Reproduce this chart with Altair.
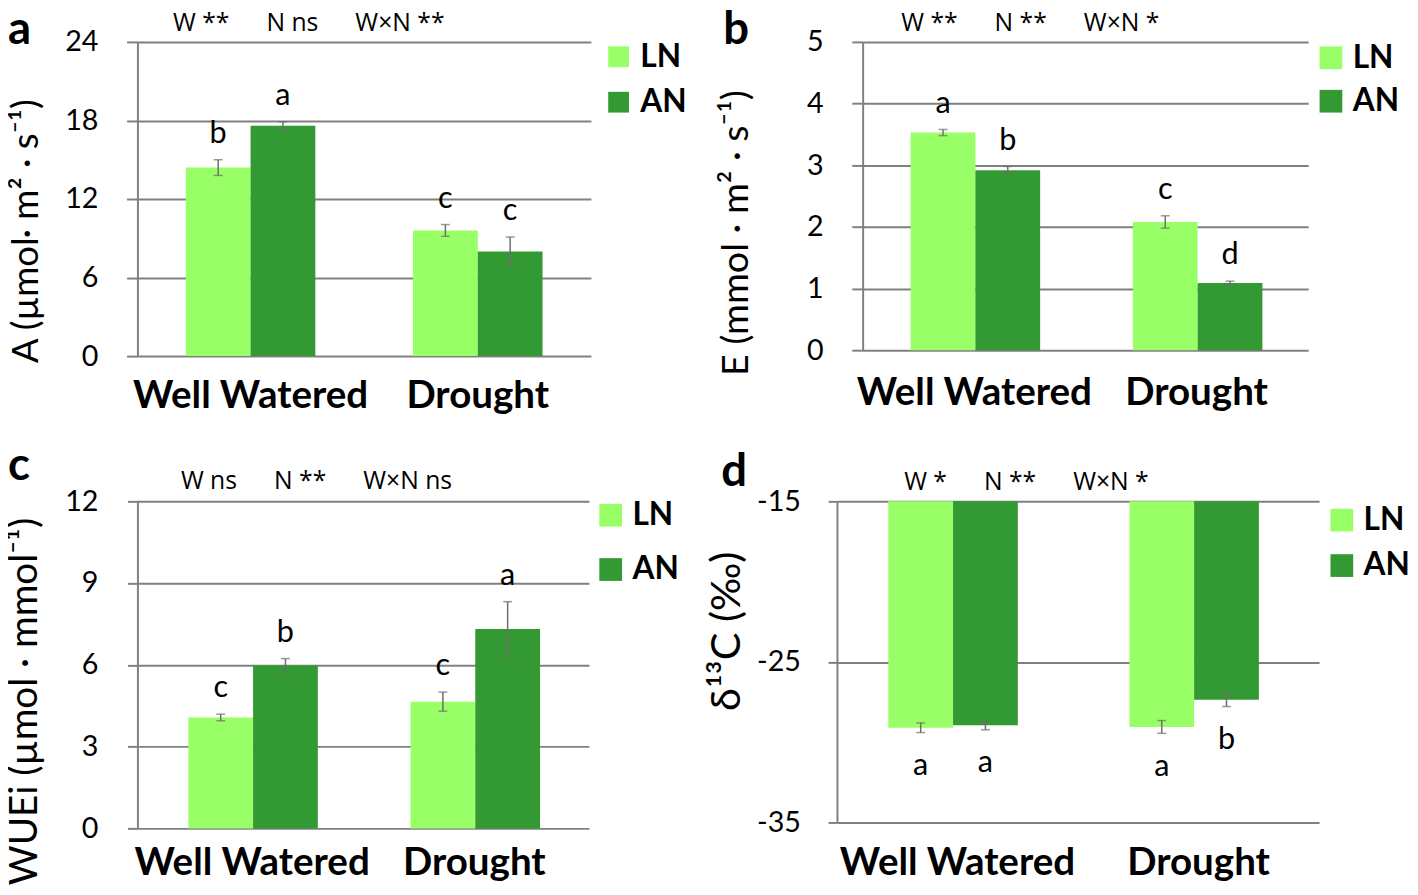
import altair as alt
import pandas as pd

FONT = "Lato"
SIGFONT = "Open Sans"
GRAY = "#808080"
ERR = "#6e6e6e"

conditions = ["Well Watered", "Drought"]
series = ["LN", "AN"]
colors = ["#99FF66", "#339933"]

# Panel a: net photosynthesis A
a_ln = [14.4, 9.6]
a_an = [17.6, 8.0]
a_ln_err = [0.6, 0.45]
a_an_err = [0.3, 1.1]
a_ln_let = ["b", "c"]
a_an_let = ["a", "c"]
a_ticks = [0, 6, 12, 18, 24]

# Panel b: transpiration E
b_ln = [3.53, 2.08]
b_an = [2.92, 1.09]
b_ln_err = [0.05, 0.1]
b_an_err = [0.06, 0.03]
b_ln_let = ["a", "c"]
b_an_let = ["b", "d"]
b_ticks = [0, 1, 2, 3, 4, 5]

# Panel c: WUEi
c_ln = [4.07, 4.65]
c_an = [5.98, 7.32]
c_ln_err = [0.12, 0.35]
c_an_err = [0.25, 1.0]
c_ln_let = ["c", "c"]
c_an_let = ["b", "a"]
c_ticks = [0, 3, 6, 9, 12]

# Panel d: delta 13C
d_ln = [-29.1, -29.05]
d_an = [-28.95, -27.35]
d_ln_err = [0.3, 0.4]
d_an_err = [0.28, 0.43]
d_ln_let = ["a", "a"]
d_an_let = ["a", "b"]
d_ticks = [-35, -25, -15]

SEP = "\u2003\u2002"
sig_a = "W **" + SEP + "N ns" + SEP + "W\u00d7N **"
sig_b = "W **" + SEP + "N **" + SEP + "W\u00d7N *"
sig_c = "W ns" + SEP + "N **" + SEP + "W\u00d7N ns"
sig_d = "W *" + SEP + "N **" + SEP + "W\u00d7N *"


def make_df(ln, an, ln_err, an_err, ln_let, an_let):
    rows = []
    for i, c in enumerate(conditions):
        for s, v, e, l in (("LN", ln[i], ln_err[i], ln_let[i]), ("AN", an[i], an_err[i], an_let[i])):
            rows.append(dict(cond=c, N=s, v=v, lo=v - e, hi=v + e, lab=l))
    return pd.DataFrame(rows)


def panel(df, ytitle, domain, ticks, width, height, pi, po,
          tick_size, label_pad, title_pad, title_y, title_size,
          xlab_pad, leg_x, leg_y, leg_row, leg_sym,
          letter, letter_xy, sig, sig_xy, inverted=False, let_dy=-17):
    xax = alt.Axis(title=None, labelAngle=0, labelFont=FONT, labelFontSize=39,
                   labelFontWeight="bold", labelColor="black", ticks=False,
                   tickSize=0, domain=False, labelPadding=xlab_pad,
                   labelLimit=600, labelOverlap=False)
    xs = alt.Scale(paddingInner=pi, paddingOuter=po, align=0.5)
    x = alt.X("cond:N", sort=conditions, scale=xs, axis=xax)
    xo = alt.XOffset("N:N", sort=series, scale=alt.Scale(paddingInner=0, paddingOuter=0))
    yax = alt.Axis(values=ticks, title=ytitle, grid=True, gridColor=GRAY, gridWidth=2,
                   domainColor=GRAY, domainWidth=2, tickColor=GRAY, tickWidth=2,
                   tickSize=tick_size, labelFont=FONT, labelFontSize=29,
                   labelColor="black", labelPadding=label_pad,
                   labelExpr="datum.value < 0 ? '-' + abs(datum.value) : '' + datum.value",
                   titleFont=FONT, titleFontSize=title_size, titleFontWeight="normal",
                   titleColor="black", titlePadding=title_pad, titleY=title_y)
    ys = alt.Scale(domain=domain, nice=False, zero=False)

    def Y(field):
        return alt.Y(field, scale=ys, axis=yax)

    base = alt.Chart(df)
    enc = dict(x=x, xOffset=xo, y=Y("v:Q"),
               color=alt.Color("N:N", sort=series,
                               scale=alt.Scale(domain=series, range=colors),
                               legend=alt.Legend(title=None, orient="none", legendX=leg_x,
                                                 legendY=leg_y, symbolType="square",
                                                 symbolSize=leg_sym, symbolStrokeWidth=0,
                                                 symbolOpacity=1, padding=0,
                                                 labelFont=FONT, labelFontSize=32,
                                                 labelFontWeight="bold", labelColor="black",
                                                 labelOffset=6, rowPadding=leg_row)))
    if inverted:
        enc["y2"] = alt.datum(domain[1])
    bars = base.mark_bar().encode(**enc)
    rules = base.mark_rule(color=ERR, strokeWidth=1.5).encode(
        x=x, xOffset=xo, y=Y("lo:Q"), y2="hi:Q")
    cap_lo = base.mark_tick(color=ERR, thickness=1.5, size=9).encode(x=x, xOffset=xo, y=Y("lo:Q"))
    cap_hi = base.mark_tick(color=ERR, thickness=1.5, size=9).encode(x=x, xOffset=xo, y=Y("hi:Q"))
    field = "lo:Q" if inverted else "hi:Q"
    letters = base.mark_text(font=FONT, fontSize=31, color="black", baseline="alphabetic",
                             dy=let_dy).encode(x=x, xOffset=xo, y=Y(field), text="lab:N")
    letter_layer = alt.Chart(pd.DataFrame({"t": [letter]})).mark_text(
        font=FONT, fontSize=46, fontWeight="bold", color="black", align="left",
        baseline="alphabetic").encode(text="t:N", x=alt.value(letter_xy[0]), y=alt.value(letter_xy[1]))
    sig_layer = alt.Chart(pd.DataFrame({"t": [sig]})).mark_text(
        font=SIGFONT, fontSize=25, color="black", align="left",
        baseline="alphabetic").encode(text="t:N", x=alt.value(sig_xy[0]), y=alt.value(sig_xy[1]))
    return alt.layer(bars, rules, cap_lo, cap_hi, letters, letter_layer, sig_layer).properties(
        width=width, height=height)


pa = panel(make_df(a_ln, a_an, a_ln_err, a_an_err, a_ln_let, a_an_let),
           "A (\u00b5mol\u00b7 m\u00b2 \u00b7 s\u207b\u00b9)", [0, 24], a_ticks, 459, 318, 0.43, 0.213,
           11, 29, 20, 191, 37, 21, 471, -1, 14, 441,
           "a", (-131, 2), sig_a, (36, -11))
pb = panel(make_df(b_ln, b_an, b_ln_err, b_an_err, b_ln_let, b_an_let),
           "E (mmol \u00b7 m\u00b2 \u00b7 s\u207b\u00b9)", [0, 5], b_ticks, 451, 312, 0.427, 0.216,
           11, 29, 52, 193, 38, 24, 458, 0, 12, 529,
           "b", (-141, 2), sig_b, (39, -11))
pc = panel(make_df(c_ln, c_an, c_ln_err, c_an_err, c_ln_let, c_an_let),
           "WUEi (\u00b5mol \u00b7 mmol\u207b\u00b9)", [0, 12], c_ticks, 457, 331, 0.426, 0.229,
           10, 30, 21, 202, 39, 16, 463, -2, 23, 529,
           "c", (-131, -22), sig_c, (44, -13))
pd_ = panel(make_df(d_ln, d_an, d_ln_err, d_an_err, d_ln_let, d_an_let),
            "\u03b4\u00b9\u00b3C (\u2030)", [-35, -15], d_ticks, 488, 325, 0.426, 0.213,
            9, 28, 8, 131, 42, 22, 495, 3, 14, 529,
            "d", (-117, -16), sig_d, (68, -11), inverted=True, let_dy=43)

row1 = alt.hconcat(pa, pb, spacing=275, bounds="flush").resolve_scale(color="independent").resolve_legend(color="independent")
row2 = alt.hconcat(pc, pd_, spacing=251, bounds="flush").resolve_scale(color="independent").resolve_legend(color="independent")

chart = alt.vconcat(row1, row2, spacing=28).resolve_scale(
    color="independent").resolve_legend(color="independent").properties(
    padding={"left": -3, "top": -6, "right": 0, "bottom": -3}).configure_view(stroke=None)

chart.save("out.html", embed_options={"renderer": "svg", "actions": False})
